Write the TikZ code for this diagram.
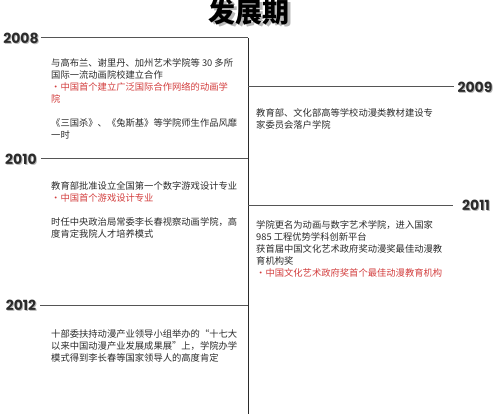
\documentclass[tikz,border=0pt]{standalone}
\usepackage{fontspec}
\setmainfont{Noto Sans CJK SC}
\newfontfamily\yearfont{Poppins}
\usetikzlibrary{positioning}
\definecolor{TimeInk}{HTML}{2B2B2B}
\definecolor{TimeRed}{HTML}{D23C3C}
\definecolor{TimeRule}{HTML}{555555}
\definecolor{TimeShade}{HTML}{B8B8B8}
\tikzset{
  entry/.style={anchor=north west,inner sep=0pt,align=left,text=TimeInk,
    font=\fontsize{9.3}{12}\selectfont},
  year/.style={inner sep=0pt,text=TimeInk,
    font=\yearfont\bfseries\fontsize{14}{14}\selectfont},
  yearshade/.style={year,text=TimeShade},
  headline/.style={inner sep=0pt,text=black,
    font=\bfseries\fontsize{27}{27}\selectfont},
  rule/.style={TimeRule,line width=1pt}
}
\begin{document}
\begin{tikzpicture}[x=1pt,y=-1pt]

  \useasboundingbox (0,0) rectangle (500,414);

  % title
  \node[headline,text=TimeShade] (titleshade) at (252,14) {发展期};
  \node[headline] (title) at (249,12) {发展期};

  % spine
  \coordinate (spinetop) at (248,38);
  \coordinate (spinebot) at (248,414);
  \draw[rule,TimeInk] (spinetop) -- (spinebot);

  % years
  \node[yearshade] (s2008) at (22,39.5) {2008};
  \node[year] (y2008) at (21,38) {2008};
  \draw[rule] ([xshift=2pt]y2008.east) -- (y2008 -| spinetop);

  \node[yearshade] (s2009) at (476,88.5) {2009};
  \node[year] (y2009) at (475,87) {2009};
  \draw[rule] (y2009 -| spinetop) -- ([xshift=-3pt]y2009.west);

  \node[yearshade] (s2010) at (22,160.5) {2010};
  \node[year] (y2010) at (21,159) {2010};
  \draw[rule] ([xshift=4pt]y2010.east) -- (y2010 -| spinetop);

  \node[yearshade] (s2011) at (477,206.5) {2011};
  \node[year] (y2011) at (476,205) {2011};
  \draw[rule] (y2011 -| spinetop) -- ([xshift=-9pt]y2011.west);

  \node[yearshade] (s2012) at (22,306.5) {2012};
  \node[year] (y2012) at (21,305) {2012};
  \draw[rule] ([xshift=4pt]y2012.east) -- (y2012 -| spinetop);

  % entries
  \node[entry] (t2008) at (51,58.3)
    {与高布兰、谢里丹、加州艺术学院等 30 多所\\
     国际一流动画院校建立合作\\
     \textcolor{TimeRed}{・中国首个建立广泛国际合作网络的动画学}\\
     \textcolor{TimeRed}{院}\\[12pt]
     《三国杀》、《兔斯基》等学院师生作品风靡\\
     一时};

  \node[entry] (t2009) at (256,108.3)
    {教育部、文化部高等学校动漫类教材建设专\\
     家委员会落户学院};

  \node[entry] (t2010) at (51,181.3)
    {教育部批准设立全国第一个数字游戏设计专业\\
     \textcolor{TimeRed}{・中国首个游戏设计专业}\\[12pt]
     时任中央政治局常委李长春视察动画学院，高\\
     度肯定我院人才培养模式};

  \node[entry] (t2011) at (256,220.3)
    {学院更名为动画与数字艺术学院，进入国家\\
     985 工程优势学科创新平台\\
     获首届中国文化艺术政府奖动漫奖最佳动漫教\\
     育机构奖\\
     \textcolor{TimeRed}{・中国文化艺术政府奖首个最佳动漫教育机构}};

  \node[entry] (t2012) at (51,329.3)
    {十部委扶持动漫产业领导小组举办的“十七大\\
     以来中国动漫产业发展成果展”上，学院办学\\
     模式得到李长春等国家领导人的高度肯定};

\end{tikzpicture}
\end{document}
